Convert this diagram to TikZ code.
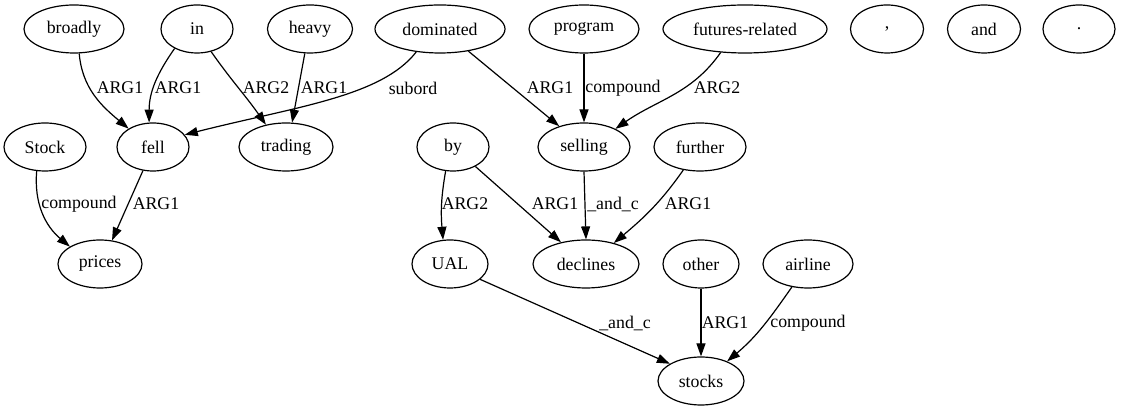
\documentclass[tikz,border=0pt]{standalone}
\usepackage{fontspec}
\setmainfont{Liberation Serif}
\usetikzlibrary{shapes.geometric,arrows.meta}
\begin{document}
\begin{tikzpicture}[x=1pt,y=1pt,
  every node/.style={font=\fontsize{17.8}{20}\selectfont},
  nd/.style={draw,ellipse,line width=1.2pt,inner sep=0pt,minimum height=48pt},
  lbl/.style={inner sep=0pt},
  edge/.style={line width=1.2pt,-{Triangle[length=13pt,width=9pt]}}]
\useasboundingbox (0,0) rectangle (1121,411);
% row 1
\node[nd,minimum width=100pt] (broadly) at (74,382) {broadly};
\node[nd,minimum width=72pt] (in) at (197,382) {in};
\node[nd,minimum width=85pt] (heavy) at (310,382) {heavy};
\node[nd,minimum width=130pt] (dominated) at (440,382) {dominated};
\node[nd,minimum width=110pt] (program) at (584,382) {program};
\node[nd,minimum width=164pt] (futures) at (745,382) {futures-related};
\node[nd,minimum width=73pt] (comma) at (887,382) {,};
\node[nd,minimum width=73pt] (and) at (984,382) {and};
\node[nd,minimum width=72pt] (dot) at (1079,382) {.};
% row 2
\node[nd,minimum width=82pt] (Stock) at (45,264) {Stock};
\node[nd,minimum width=72pt] (fell) at (153,264) {fell};
\node[nd,minimum width=94pt] (trading) at (286,264) {trading};
\node[nd,minimum width=72pt] (by) at (453,264) {by};
\node[nd,minimum width=92pt] (selling) at (584,264) {selling};
\node[nd,minimum width=92pt] (further) at (700,264) {further};
% row 3
\node[nd,minimum width=84pt] (prices) at (100,147) {prices};
\node[nd,minimum width=76pt] (UAL) at (450,147) {UAL};
\node[nd,minimum width=106pt] (declines) at (586,147) {declines};
\node[nd,minimum width=76pt] (other) at (701,147) {other};
\node[nd,minimum width=90pt] (airline) at (808,147) {airline};
% row 4
\node[nd,minimum width=86pt] (stocks) at (701,30) {stocks};
% edges
\draw[edge] (broadly.-78) to[out=-85,in=140] (fell.143);
\draw[edge] (in.-139) to[out=-125,in=90] (fell.99);
\draw[edge] (in.-58) to[out=-55,in=125] (trading.132);
\draw[edge] (heavy.-102) -- (trading.76);
\draw[edge] (dominated.-136) .. controls +(-35,-45) and +(110,28) .. (fell.21);
\draw[edge] (dominated.-38) -- (selling.140);
\draw[edge] (program.south) -- (selling.north);
\draw[edge] (futures.-136) to[out=-125,in=35] (selling.30);
\draw[edge] (Stock.-109) to[out=-95,in=140] (prices.150);
\draw[edge] (fell.-113) -- (prices.63);
\draw[edge] (by.-107) to[out=-100,in=95] (UAL.106);
\draw[edge] (by.-41) -- (declines.139);
\draw[edge] (selling.south) -- (declines.north);
\draw[edge] (further.-126) to[out=-125,in=40] (declines.37);
\draw[edge] (UAL.-27) -- (stocks.151);
\draw[edge] (other.south) -- (stocks.north);
\draw[edge] (airline.-125) to[out=-125,in=40] (stocks.37);
% labels
\node[lbl] (l1) at (120,323) {ARG1};
\node[lbl] (l2) at (178,323) {ARG1};
\node[lbl] (l3) at (266,323) {ARG2};
\node[lbl] (l4) at (324,323) {ARG1};
\node[lbl] (l5) at (413,323) {subord};
\node[lbl] (l6) at (550,323) {ARG1};
\node[lbl] (l7) at (623,323) {compound};
\node[lbl] (l8) at (717,323) {ARG2};
\node[lbl] (l9) at (79,207) {compound};
\node[lbl] (l10) at (156,207) {ARG1};
\node[lbl] (l11) at (465,207) {ARG2};
\node[lbl] (l12) at (555,207) {ARG1};
\node[lbl] (l13) at (613,207) {\_and\_c};
\node[lbl] (l14) at (688,207) {ARG1};
\node[lbl] (l15) at (625,88) {\_and\_c};
\node[lbl] (l16) at (725,88) {ARG1};
\node[lbl] (l17) at (808,88) {compound};
\end{tikzpicture}
\end{document}
